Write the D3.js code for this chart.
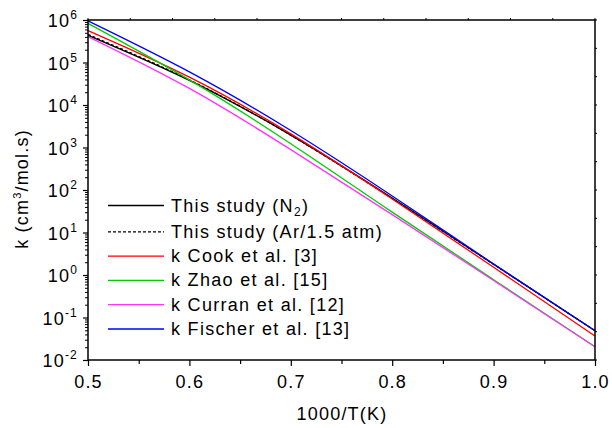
<!DOCTYPE html>
<html>
<head>
<meta charset="utf-8">
<script src="https://cdn.jsdelivr.net/npm/d3@7"></script>
<style>
  body { margin: 0; background: #fff; }
  svg text { font-family: "Liberation Sans", Arial, sans-serif; fill: #000; }
</style>
</head>
<body>
<div id="chart"></div>
<script>
// k vs 1000/T, as log10(k)
var invT      = [0.5, 0.6, 0.7, 0.8, 0.9, 1.0];
var kThisN2   = [5.64, 4.58, 3.29, 1.81, 0.255, -1.31];
var kThisAr   = [5.66, 4.59, 3.29, 1.80, 0.25, -1.31];
var kCook     = [5.75, 4.654, 3.32, 1.79, 0.183, -1.435];
var kZhao     = [5.92, 4.59, 3.09, 1.48, -0.11, -1.69];
var kCurran   = [5.61, 4.39, 2.95, 1.42, -0.13, -1.69];
var kFischer  = [5.98, 4.78, 3.40, 1.86, 0.26, -1.31];

var seriesNames = ["This study (N2)", "This study (Ar/1.5 atm)", "k Cook et al. [3]", "k Zhao et al. [15]", "k Curran et al. [12]", "k Fischer et al. [13]"];
var seriesData  = [kThisN2, kThisAr, kCook, kZhao, kCurran, kFischer];
var seriesColor = ["#000000", "#000000", "#ff0000", "#00cc00", "#ff33ff", "#0000ff"];
var seriesDash  = [null, "3,2", null, null, null, null];

var xTicks = [0.5, 0.6, 0.7, 0.8, 0.9, 1.0];
var xMinor = [0.55, 0.65, 0.75, 0.85, 0.95];
var yExps  = [-2, -1, 0, 1, 2, 3, 4, 5, 6];

var W = 612, H = 428;
var svg = d3.select("#chart").append("svg").attr("width", W).attr("height", H);

var x = d3.scaleLinear().domain([0.5, 1.0]).range([88, 595]);
var y = d3.scaleLog().domain([1e-2, 1e6]).range([360, 20]);

// minor log ticks 2..9 per decade
var yMinor = [];
yExps.slice(0, -1).forEach(function(e){
  for (var m = 2; m <= 9; m++) yMinor.push(m * Math.pow(10, e));
});

// bottom axis
svg.append("g").attr("transform", "translate(0,360)")
  .call(d3.axisBottom(x).tickValues(xTicks).tickSize(6).tickFormat(d3.format(".1f")))
  .call(function(g){
    g.select(".domain").remove();
    g.selectAll("line").attr("stroke", "#000").attr("stroke-width", 1.2);
    g.selectAll("text").attr("dy", null).attr("y", 28).style("font-size", "18px").style("letter-spacing", "1.2px")
      .style("font-family", "'Liberation Sans', Arial, sans-serif");
  });
svg.append("g").attr("transform", "translate(0,360)")
  .call(d3.axisBottom(x).tickValues(xMinor).tickSize(4).tickFormat(""))
  .call(function(g){ g.select(".domain").remove(); g.selectAll("line").attr("stroke", "#000").attr("stroke-width", 1.2); });

// left axis
svg.append("g").attr("transform", "translate(88,0)")
  .call(d3.axisLeft(y).tickValues(yExps.map(function(e){ return Math.pow(10, e); })).tickSize(5).tickFormat(""))
  .call(function(g){ g.select(".domain").remove(); g.selectAll("line").attr("stroke", "#000").attr("stroke-width", 1.2); });
svg.append("g").attr("transform", "translate(88,0)")
  .call(d3.axisLeft(y).tickValues(yMinor).tickSize(3).tickFormat(""))
  .call(function(g){ g.select(".domain").remove(); g.selectAll("line").attr("stroke", "#000").attr("stroke-width", 1); });

var yLab = svg.append("g").selectAll("text").data(yExps).enter().append("text")
  .attr("x", 78).attr("y", function(e){ return y(Math.pow(10, e)) + 7; })
  .attr("text-anchor", "end").style("font-size", "18px").style("letter-spacing", "1.2px");
yLab.append("tspan").text("10");
yLab.append("tspan").attr("dy", -8).style("font-size", "12px").text(function(e){ return e; });

// top and right small ticks
var topTicks = d3.range(13).map(function(i){ return 0.5 + i * 0.5 / 12; });
svg.append("g").selectAll("line").data(topTicks).enter().append("line")
  .attr("x1", function(d){ return x(d); }).attr("x2", function(d){ return x(d); })
  .attr("y1", 20).attr("y2", 18).attr("stroke", "#000");
var rightTicks = d3.range(13).map(function(i){ return 20 + i * 340 / 12; });
svg.append("g").selectAll("line").data(rightTicks).enter().append("line")
  .attr("x1", 595).attr("x2", 597).attr("y1", function(d){ return d; }).attr("y2", function(d){ return d; })
  .attr("stroke", "#000");

// curves
var line = d3.line()
  .x(function(d){ return x(d[0]); })
  .y(function(d){ return y(Math.pow(10, d[1])); })
  .curve(d3.curveNatural);

var plot = svg.append("g");
seriesData.forEach(function(vals, i){
  plot.append("path")
    .datum(invT.map(function(v, j){ return [v, vals[j]]; }))
    .attr("d", line)
    .attr("fill", "none")
    .attr("stroke", seriesColor[i])
    .attr("stroke-width", 1.3)
    .attr("stroke-dasharray", seriesDash[i]);
});

// frame
svg.append("rect").attr("x", 88).attr("y", 20).attr("width", 507).attr("height", 340)
  .attr("fill", "none").attr("stroke", "#000").attr("stroke-width", 1.5);

// legend
var leg = svg.append("g").selectAll("g").data(seriesNames).enter().append("g")
  .attr("transform", function(d, i){ return "translate(0," + (213.5 + i * 24.3 - (i == 0 ? 2 : 0)) + ")"; });
leg.append("line").attr("x1", 108).attr("x2", 164).attr("y1", -6).attr("y2", -6)
  .attr("stroke", function(d, i){ return seriesColor[i]; })
  .attr("stroke-width", 1.3)
  .attr("stroke-dasharray", function(d, i){ return seriesDash[i]; });
leg.each(function(d, i){
  var t = d3.select(this).append("text").attr("x", 171).attr("y", 0)
    .style("font-size", "18px").style("letter-spacing", "1.3px");
  if (i == 0) {
    t.append("tspan").text("This study (N");
    t.append("tspan").attr("dy", 4).style("font-size", "12px").text("2");
    t.append("tspan").attr("dy", -4).text(")");
  } else {
    t.text(d);
  }
});

// axis titles
svg.append("text").attr("x", 342).attr("y", 420).attr("text-anchor", "middle")
  .style("font-size", "18px").style("letter-spacing", "1.2px").text("1000/T(K)");
var yt = svg.append("text").attr("transform", "translate(28,189) rotate(-90)").attr("text-anchor", "middle")
  .style("font-size", "18px").style("letter-spacing", "1.2px");
yt.append("tspan").text("k (cm");
yt.append("tspan").attr("dy", -7).style("font-size", "11px").text("3");
yt.append("tspan").attr("dy", 7).text("/mol.s)");
</script>
</body>
</html>
